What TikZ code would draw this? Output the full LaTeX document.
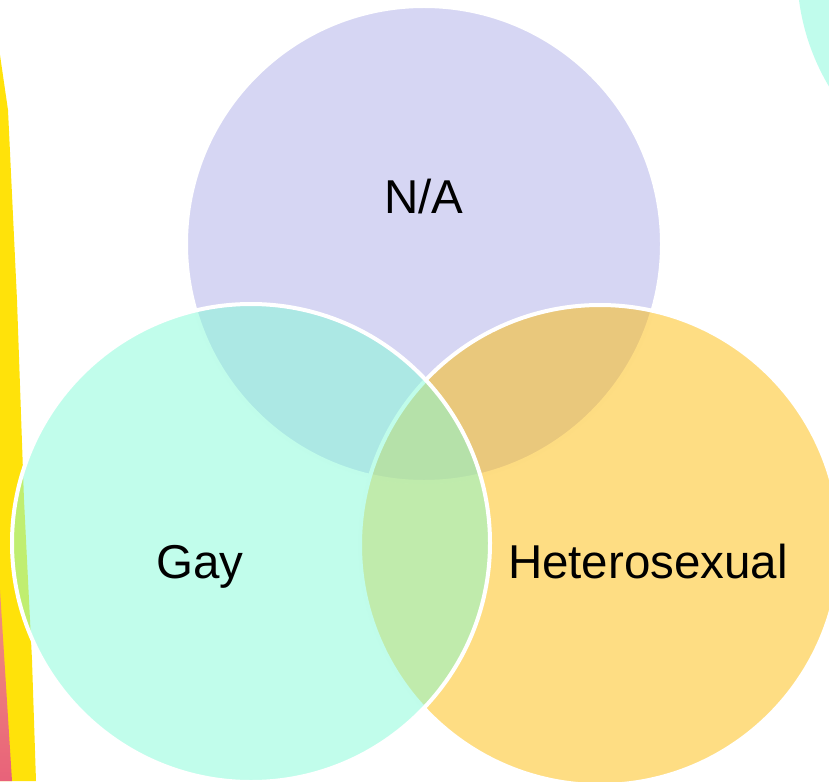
\documentclass[tikz,border=0pt]{standalone}
\usepackage{fontspec}
\setmainfont{Liberation Sans}
\usetikzlibrary{positioning}
\definecolor{pLavender}{HTML}{D6D6F3}
\definecolor{pMint}{RGB}{131,251,215}
\definecolor{pAmber}{RGB}{253,187,7}
\definecolor{pAqua}{HTML}{C0FCEC}
\definecolor{pYellow}{HTML}{FFE20A}
\definecolor{pSalmon}{HTML}{F2927C}
\definecolor{pRose}{HTML}{E8627A}

\tikzset{
    venn/.style={circle, draw=white, line width=4pt, inner sep=0pt, minimum size=#1},
    lbl/.style={anchor=base, font=\fontsize{47.5}{57}\selectfont, text=black},
}

\begin{document}
\begin{tikzpicture}[x=1pt, y=-1pt]
    \useasboundingbox (0,0) rectangle (829,781);
    \clip (0,0) rectangle (829,781);

    % strips along the left edge
    \fill[pYellow] (-10,55) -- (0,55) -- (8,110) -- (17,300) -- (24,500) -- (32,660) -- (36,781) -- (-10,781) -- cycle;
    \shade[top color=pSalmon, bottom color=pRose] (-10,590) -- (0,590) -- (12,781) -- (-10,781) -- cycle;

    % circles
    \node[venn=456pt, fill=pAqua, draw=none] (corner) at (1025,-30) {};
    \node[venn=476pt, fill=pLavender] (na) at (424,244) {};
    \node[venn=480pt, fill=pAmber, fill opacity=0.5] (het) at (600,545) {};
    \node[venn=478pt, fill=pMint, fill opacity=0.5] (gay) at (251,543) {};

    % labels
    \node[lbl] (naLabel) at (424,213) {N/A};
    \node[lbl] (gayLabel) at (200,578) {Gay};
    \node[lbl] (hetLabel) at (648,578) {Heterosexual};

\end{tikzpicture}
\end{document}
